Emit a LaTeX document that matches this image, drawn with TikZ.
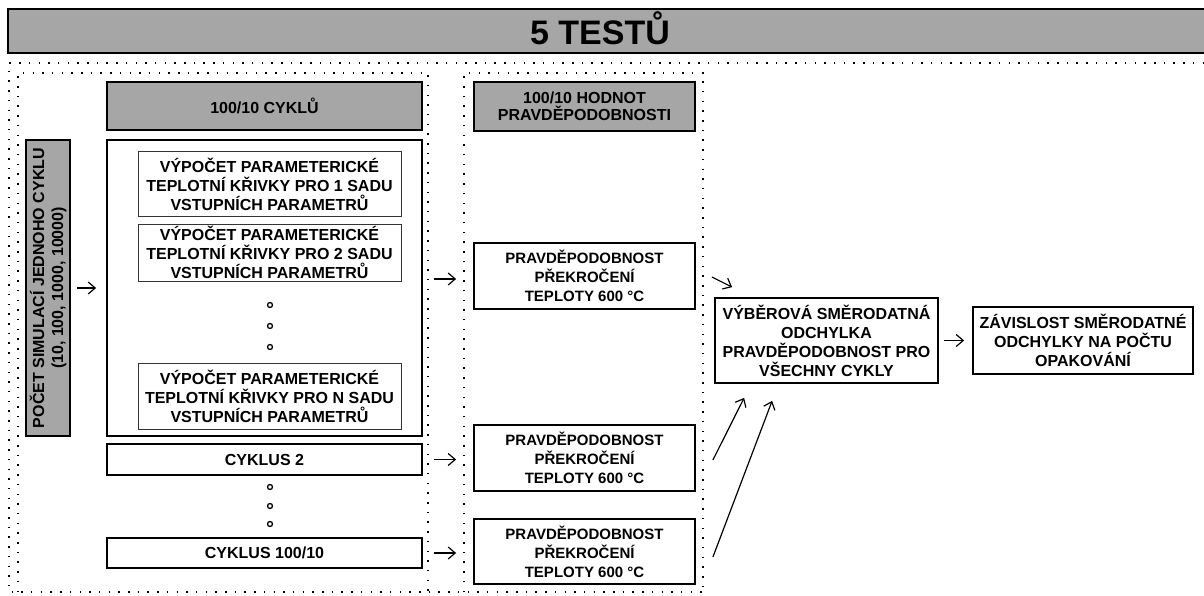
\documentclass[tikz,border=0pt]{standalone}
\usepackage{fontspec}
\setmainfont{Liberation Sans}
\usepackage{tikz}
\usetikzlibrary{arrows.meta,calc}

\definecolor{headgray}{RGB}{166,166,166}

\tikzset{
  blockbox/.style={draw, line width=1.8pt, fill=white, inner sep=0pt, align=center,
    font=\bfseries\fontsize{16}{19}\selectfont},
  headbox/.style={blockbox, fill=headgray},
  subbox/.style={draw=black!80, line width=1pt, fill=white, inner sep=0pt, align=center,
    font=\bfseries\fontsize{16}{19}\selectfont},
  pravbox/.style={blockbox, font=\bfseries\fontsize{15}{19}\selectfont},
  dotline/.style={line width=1.5pt, dash pattern=on 1.5pt off 8.2pt},
  arr/.style={-{Straight Barb[length=7pt,width=12pt,line width=1.2pt]}, line width=1.2pt},
  tecka/.style={circle, draw, line width=1.3pt, inner sep=0pt, minimum size=5pt}
}

\begin{document}
\begin{tikzpicture}[x=1pt,y=-1pt]
\useasboundingbox (0,0) rectangle (1204,596);

% title bar
\draw [fill=headgray, line width=2.5pt] (8,9) rectangle (1216,53);
\node [font=\bfseries\fontsize{34}{40}\selectfont] (titel) at (600,28) {5 TESTŮ};

% dotted frames
\draw [dotline] (1204,63) -- (9,63) -- (9,592) -- (703,592);
\draw [dotline] (18,592) -- (18,73) -- (428,73) -- (428,592);
\draw [dotline] (464,592) -- (464,73) -- (703,73) -- (703,592);

% left column
\node [headbox, rotate=90, minimum width=296, minimum height=44] (pocet) at (48,288)
  {POČET SIMULACÍ JEDNOHO CYKLU\\(10, 100, 1000, 10000)};
\node [headbox, minimum width=315, minimum height=48] (cykly) at (264.5,106) {100/10 CYKLŮ};
\node [blockbox, minimum width=315, minimum height=296] (cyklus1) at (264.5,288) {};
\node [subbox, minimum width=263, minimum height=64] (sada1) at (269.5,184)
  {VÝPOČET PARAMETERICKÉ\\TEPLOTNÍ KŘIVKY PRO 1 SADU\\VSTUPNÍCH PARAMETRŮ};
\node [subbox, minimum width=263, minimum height=57] (sada2) at (269.5,252.5)
  {VÝPOČET PARAMETERICKÉ\\TEPLOTNÍ KŘIVKY PRO 2 SADU\\VSTUPNÍCH PARAMETRŮ};
\node [subbox, minimum width=263, minimum height=66] (sadaN) at (269.5,396)
  {VÝPOČET PARAMETERICKÉ\\TEPLOTNÍ KŘIVKY PRO N SADU\\VSTUPNÍCH PARAMETRŮ};
\node [blockbox, minimum width=315, minimum height=31] (cyklus2) at (264.5,459.5) {CYKLUS 2};
\node [blockbox, minimum width=315, minimum height=30] (cyklusK) at (264.5,553) {CYKLUS 100/10};
\foreach \y [count=\i] in {305,326,347,487,506,524}
  \node [tecka] (kruh\i) at (270,\y) {};

% middle column
\node [headbox, minimum width=221, minimum height=49, font=\bfseries\fontsize{16}{17}\selectfont]
  (hodnoty) at (584.5,106.5) {100/10 HODNOT\\PRAVDĚPODOBNOSTI};
\node [pravbox, minimum width=221, minimum height=66] (prav1) at (584.5,276)
  {PRAVDĚPODOBNOST\\PŘEKROČENÍ\\TEPLOTY 600 °C};
\node [pravbox, minimum width=221, minimum height=66] (prav2) at (584.5,458)
  {PRAVDĚPODOBNOST\\PŘEKROČENÍ\\TEPLOTY 600 °C};
\node [pravbox, minimum width=221, minimum height=65] (prav3) at (584.5,551.5)
  {PRAVDĚPODOBNOST\\PŘEKROČENÍ\\TEPLOTY 600 °C};

% right part
\node [blockbox, minimum width=223, minimum height=85] (vyber) at (826.5,340.5)
  {VÝBĚROVÁ SMĚRODATNÁ\\ODCHYLKA\\PRAVDĚPODOBNOST PRO\\VŠECHNY CYKLY};
\node [blockbox, minimum width=220, minimum height=67] (zavislost) at (1083,340.5)
  {ZÁVISLOST SMĚRODATNÉ\\ODCHYLKY NA POČTU\\OPAKOVÁNÍ};

% arrows
\draw [arr, shorten <=6pt, shorten >=10pt] (pocet) -- (cyklus1);
\draw [arr] ($(cyklus1.east |- prav1.west)+(11,3)$) -- ($(prav1.west)+(-17,3)$);
\draw [arr] ($(cyklus2.east)+(11,0)$) -- ($(cyklus2.east -| prav2.west)+(-17,0)$);
\draw [arr] ($(cyklusK.east)+(11,0)$) -- ($(cyklusK.east -| prav3.west)+(-17,0)$);
\draw [arr] ($(prav1.east)+(16,1)$) -- ($(vyber.north west)+(18,-10)$);
\draw [arr] ($(prav2.east)+(17,2)$) -- ($(vyber.south west)+(30,14)$);
\draw [arr] ($(prav3.east)+(17,5.5)$) -- ($(vyber.south west)+(58,17)$);
\draw [arr, shorten <=5pt, shorten >=8pt] (vyber) -- (zavislost);
\end{tikzpicture}
\end{document}
